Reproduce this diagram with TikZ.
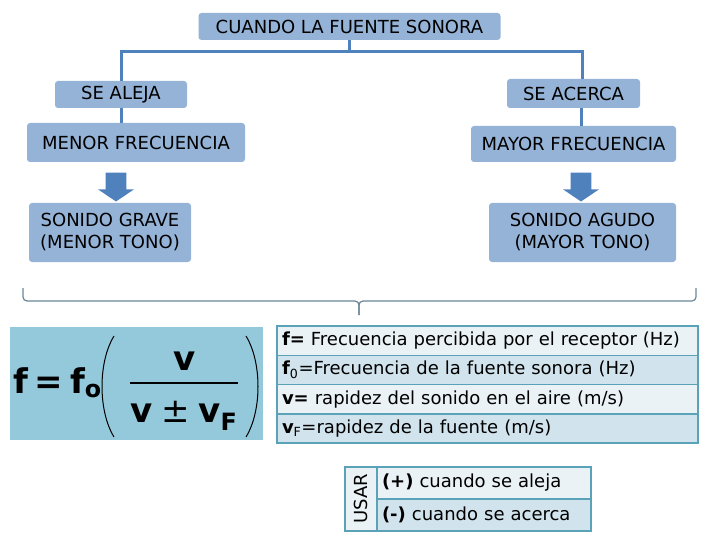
\documentclass[tikz,border=0pt]{standalone}
\usepackage{fontspec}
\setmainfont{DejaVu Sans}
\usetikzlibrary{positioning,shapes.arrows}

\definecolor{boxblue}{HTML}{95B3D7}
\definecolor{lineblue}{HTML}{4F81BD}
\definecolor{formblue}{HTML}{94C9DC}
\definecolor{tabedge}{HTML}{5AA2B8}
\definecolor{rowlight}{HTML}{EAF2F6}
\definecolor{rowdark}{HTML}{D1E3EC}
\definecolor{bracegray}{HTML}{6A8596}

\begin{document}
\begin{tikzpicture}[
  x=1pt,y=-1pt,
  bluebox/.style={fill=boxblue,rounded corners=3pt,inner sep=0pt,align=center,
                  font=\fontsize{18}{22}\selectfont},
  tree/.style={draw=lineblue,line width=3pt},
  downarrow/.style={single arrow,fill=lineblue,inner sep=9.5pt,minimum width=36pt,
                    minimum height=29pt,single arrow tip angle=112,shape border rotate=270},
  rowlt/.style={draw=tabedge,line width=1.5pt,fill=rowlight,outer sep=0pt,
                text width=411pt,inner xsep=5pt,inner ysep=0pt,minimum height=29.25pt,
                align=left,font=\fontsize{18}{22}\selectfont},
  rowdk/.style={rowlt,fill=rowdark},
  usarow/.style={rowlt,text width=204pt,minimum height=32pt},
  brace/.style={draw=bracegray,line width=1.2pt,rounded corners=4pt},
  bigf/.style={inner sep=0pt,font=\fontsize{34}{40}\selectfont\bfseries}
]
  \useasboundingbox (0,0) rectangle (720,540);

  % tree
  \node[bluebox,minimum width=302pt,minimum height=27pt] (top) at (349.5,26.5) {CUANDO LA FUENTE SONORA};
  \node[bluebox,minimum width=132pt,minimum height=27pt] (alej) at (121,94.5) {SE ALEJA};
  \node[bluebox,minimum width=133pt,minimum height=29pt] (acer) at (573.5,93.5) {SE ACERCA};
  \node[bluebox,minimum width=218pt,minimum height=39pt] (menor) at (136,142.5) {MENOR FRECUENCIA};
  \node[bluebox,minimum width=205pt,minimum height=36pt] (mayor) at (573.5,144) {MAYOR FRECUENCIA};
  \node[bluebox,minimum width=162pt,minimum height=59pt] (grave) at (110,232.5) {SONIDO GRAVE\\(MENOR TONO)};
  \node[bluebox,minimum width=187pt,minimum height=59pt] (agudo) at (582.5,232.5) {SONIDO AGUDO\\(MAYOR TONO)};
  \node[downarrow] (larrow) at (116,183.5) {};
  \node[downarrow] (rarrow) at (581,183.5) {};

  \coordinate (split) at (349.5,52);
  \draw[tree] (top.south) -- (split);
  \draw[tree] (alej.north) |- (split) -| ([xshift=8.5pt]acer.north);
  \draw[tree] (alej.south) -- (alej.south |- menor.north);
  \draw[tree] ([xshift=8pt]acer.south) -- ([xshift=8pt]acer.south |- mayor.north);

  % brace
  \draw[brace] (23,288) -- (23,301) -- (359,301) -- (359,315);
  \draw[brace] (696,288) -- (696,301) -- (359,301) -- (359,315);

  % formula
  \node[fill=formblue,minimum width=253pt,minimum height=113pt,inner sep=0pt] (formbox) at (136.5,383.5) {};
  \node[bigf,anchor=base west] (ffo) at (13,393) {f\hspace{0.2em}=\hspace{0.2em}f\textsubscript{o}};
  \node[bigf,anchor=base] (num) at (185,370) {v};
  \node[bigf,anchor=base] (den) at (184,422) {v\hspace{0.25em}{\mdseries±}\hspace{0.25em}v\textsubscript{F}};
  \draw[line width=2pt] (130,383) -- (238,383);
  \draw[line width=1pt] (114,336) .. controls (98,362) and (98,411) .. (114,437);
  \draw[line width=1pt] (246,336) .. controls (262,362) and (262,411) .. (246,437);

  % table of definitions
  \node[rowlt,anchor=north west] (fdef) at (277,326) {\textbf{f=} Frecuencia percibida por el receptor (Hz)};
  \node[rowdk,below=0pt of fdef] (fodef) {\textbf{f}\textsubscript{0}=Frecuencia de la fuente sonora (Hz)};
  \node[rowlt,below=0pt of fodef] (vdef) {\textbf{v=} rapidez del sonido en el aire (m/s)};
  \node[rowdk,below=0pt of vdef] (vfdef) {\textbf{v}\textsubscript{F}=rapidez de la fuente (m/s)};

  % usar
  \node[rowlt,text width=22pt,minimum height=64pt,align=center,anchor=north west] (usar) at (345,467) {\rotatebox{90}{USAR}};
  \node[usarow,anchor=north west] (plus) at (usar.north east) {\textbf{(+)} cuando se aleja};
  \node[usarow,fill=rowdark,below=0pt of plus] (minus) {\textbf{(-)} cuando se acerca};
\end{tikzpicture}
\end{document}
